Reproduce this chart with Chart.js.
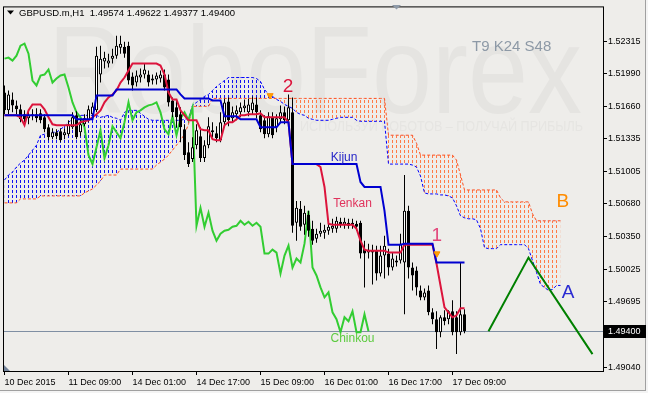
<!DOCTYPE html>
<html><head><meta charset="utf-8">
<script src="https://cdn.jsdelivr.net/npm/chart.js@4.4.0/dist/chart.umd.min.js"></script>
<style>html,body{margin:0;padding:0;background:#EEEDEA;overflow:hidden}canvas{display:block}</style>
</head><body>
<canvas id="c" width="648" height="393" style="width:648px;height:393px"></canvas>
<script>
// ---- axis ticks ----
const xTickPos = [0,16,32,48,64,80,96,112];
const xTickLabels = ['10 Dec 2015','11 Dec 09:00','14 Dec 01:00','14 Dec 17:00','15 Dec 09:00','16 Dec 01:00','16 Dec 17:00','17 Dec 09:00'];
const yTickValues = [1.52315,1.51990,1.51660,1.51335,1.51005,1.50680,1.50350,1.50025,1.49695,1.49040];
const currentPrice = 1.49400;

// ---- candles (H1 bars) ----
const openP = [
1.5180,1.5162,1.5173,1.5167,1.5163,1.5158,1.5154,1.5156,1.5158,1.5159,
1.5155,1.5145,1.5135,1.5140,1.5141,1.5137,1.5138,1.5145,1.5157,1.5140,
1.5148,1.5152,1.5158,1.5162,1.5198,1.5211,1.5209,1.5214,1.5217,1.5225,
1.5226,1.5227,1.5196,1.5190,1.5195,1.5198,1.5198,1.5192,1.5193,1.5194,
1.5198,1.5193,1.5172,1.5165,1.5158,1.5143,1.5120,1.5113,1.5127,1.5136,
1.5114,1.5127,1.5142,1.5139,1.5132,1.5150,1.5171,1.5154,1.5158,1.5160,
1.5164,1.5160,1.5162,1.5168,1.5157,1.5152,1.5138,1.5155,1.5145,1.5153,
1.5160,1.5152,1.5160,1.5049,1.5063,1.5047,1.5057,1.5043,1.5033,1.5038,
1.5039,1.5041,1.5043,1.5043,1.5050,1.5047,1.5049,1.5047,1.5048,1.5049,
1.5023,1.5019,1.5021,1.5021,1.4998,1.5016,1.5018,1.5004,1.5011,1.5011,
1.5009,1.5061,1.5004,1.5001,1.4981,1.4974,1.4981,1.4959,1.4952,1.4939,
1.4954,1.4952,1.4960,1.4954,1.4939,1.4957];
const highP = [
1.5187,1.5182,1.5180,1.5172,1.5168,1.5162,1.5162,1.5163,1.5164,1.5163,
1.5158,1.5148,1.5144,1.5143,1.5144,1.5144,1.5152,1.5160,1.5161,1.5153,
1.5158,1.5167,1.5170,1.5226,1.5227,1.5221,1.5219,1.5224,1.5237,1.5237,
1.5231,1.5231,1.5200,1.5202,1.5204,1.5209,1.5202,1.5198,1.5200,1.5202,
1.5203,1.5198,1.5175,1.5172,1.5165,1.5148,1.5130,1.5135,1.5148,1.5145,
1.5132,1.5155,1.5150,1.5146,1.5160,1.5174,1.5175,1.5166,1.5167,1.5170,
1.5173,1.5174,1.5176,1.5175,1.5162,1.5157,1.5160,1.5160,1.5158,1.5167,
1.5166,1.5178,1.5175,1.5071,1.5071,1.5066,1.5061,1.5051,1.5043,1.5049,
1.5047,1.5051,1.5053,1.5055,1.5054,1.5054,1.5053,1.5053,1.5051,1.5051,
1.5031,1.5028,1.5027,1.5026,1.5026,1.5036,1.5023,1.5019,1.5016,1.5038,
1.5097,1.5066,1.5009,1.5005,1.4986,1.4983,1.4986,1.4963,1.4960,1.4956,
1.4961,1.4961,1.4971,1.4960,1.5009,1.4962];
const lowP = [
1.5158,1.5158,1.5160,1.5158,1.5150,1.5150,1.5148,1.5152,1.5150,1.5149,
1.5140,1.5132,1.5133,1.5133,1.5130,1.5133,1.5136,1.5143,1.5133,1.5136,
1.5146,1.5150,1.5155,1.5160,1.5190,1.5204,1.5205,1.5209,1.5214,1.5219,
1.5215,1.5188,1.5182,1.5186,1.5190,1.5194,1.5186,1.5188,1.5188,1.5190,
1.5182,1.5166,1.5155,1.5145,1.5130,1.5112,1.5105,1.5110,1.5123,1.5110,
1.5110,1.5124,1.5135,1.5130,1.5130,1.5146,1.5146,1.5150,1.5152,1.5155,
1.5160,1.5156,1.5158,1.5154,1.5140,1.5134,1.5135,1.5134,1.5140,1.5150,
1.5148,1.5148,1.5039,1.5031,1.5041,1.5037,1.5035,1.5027,1.5029,1.5035,
1.5033,1.5037,1.5039,1.5039,1.5044,1.5043,1.5043,1.5043,1.5041,1.5013,
1.4984,1.5013,1.4987,1.4991,1.4995,1.4993,1.4996,1.5001,1.5005,1.5008,
1.4957,1.4993,1.4981,1.4976,1.4971,1.4971,1.4956,1.4947,1.4922,1.4934,
1.4946,1.4947,1.4936,1.4917,1.4936,1.4938];
const closeP = [
1.5162,1.5178,1.5167,1.5163,1.5153,1.5153,1.5157,1.5158,1.5154,1.5152,
1.5143,1.5135,1.5140,1.5136,1.5132,1.5140,1.5148,1.5155,1.5135,1.5148,
1.5154,1.5163,1.5166,1.5217,1.5214,1.5215,1.5212,1.5217,1.5227,1.5229,
1.5219,1.5192,1.5187,1.5197,1.5198,1.5203,1.5190,1.5194,1.5197,1.5198,
1.5185,1.5170,1.5160,1.5155,1.5145,1.5117,1.5108,1.5125,1.5142,1.5114,
1.5127,1.5146,1.5140,1.5134,1.5150,1.5170,1.5152,1.5160,1.5162,1.5165,
1.5167,1.5168,1.5170,1.5160,1.5143,1.5138,1.5156,1.5137,1.5154,1.5160,
1.5152,1.5165,1.5046,1.5064,1.5045,1.5059,1.5041,1.5031,1.5038,1.5041,
1.5042,1.5045,1.5046,1.5051,1.5047,1.5050,1.5046,1.5049,1.5045,1.5018,
1.5018,1.5022,1.5019,1.4998,1.5016,1.5026,1.5004,1.5013,1.5009,1.5028,
1.5061,1.5004,1.4996,1.4984,1.4974,1.4979,1.4959,1.4952,1.4939,1.4954,
1.4950,1.4960,1.4939,1.4939,1.4957,1.4940];

// ---- Ichimoku lines ----
const tenkan = [
1.5157,1.5157,1.5157,1.5157,1.5155,1.5147,1.5162,1.5168,1.5168,1.5168,
1.5163,1.5155,1.5148,1.5147,1.5147,1.5147,1.5147,1.5147,1.5147,1.5150,
1.5151,1.5152,1.5155,1.5158,1.5162,1.5170,1.5175,1.5178,1.5182,1.5190,
1.5195,1.5202,1.5209,1.5209,1.5209,1.5209,1.5209,1.5209,1.5209,1.5207,
1.5198,1.5180,1.5173,1.5173,1.5162,1.5157,1.5152,1.5152,1.5152,1.5143,
1.5142,1.5142,1.5133,1.5132,1.5132,1.5147,1.5150,1.5150,1.5153,1.5157,
1.5157,1.5158,1.5158,1.5158,1.5159,1.5155,1.5155,1.5155,1.5155,1.5155,
1.5155,1.5150,1.5108,1.5108,1.5108,1.5108,1.5108,1.5108,1.5108,1.5105,
1.5085,1.5048,1.5047,1.5047,1.5047,1.5047,1.5047,1.5047,1.5043,1.5031,
1.5022,1.5021,1.5021,1.5021,1.5021,1.5021,1.5019,1.5019,1.5019,1.5019,
1.5027,1.5027,1.5027,1.5027,1.5027,1.5027,1.5027,1.5027,1.5008,1.4986,
1.4964,1.4959,1.4954,1.4956,1.4963,1.4963];
const kijun = [
1.5157,1.5157,1.5157,1.5157,1.5157,1.5157,1.5157,1.5157,1.5157,1.5157,
1.5157,1.5157,1.5157,1.5157,1.5157,1.5157,1.5157,1.5157,1.5153,1.5153,
1.5153,1.5153,1.5153,1.5177,1.5177,1.5177,1.5177,1.5177,1.5183,1.5183,
1.5183,1.5183,1.5183,1.5183,1.5183,1.5183,1.5183,1.5183,1.5183,1.5183,
1.5183,1.5183,1.5183,1.5183,1.5178,1.5174,1.5174,1.5174,1.5174,1.5174,
1.5174,1.5174,1.5172,1.5172,1.5172,1.5156,1.5156,1.5156,1.5156,1.5153,
1.5153,1.5153,1.5153,1.5153,1.5145,1.5145,1.5145,1.5145,1.5145,1.5150,
1.5150,1.5150,1.5108,1.5108,1.5108,1.5108,1.5108,1.5108,1.5108,1.5108,
1.5108,1.5108,1.5108,1.5108,1.5108,1.5108,1.5108,1.5108,1.5108,1.5090,
1.5085,1.5085,1.5085,1.5085,1.5085,1.5061,1.5027,1.5027,1.5027,1.5027,
1.5028,1.5028,1.5028,1.5028,1.5028,1.5028,1.5028,1.5028,1.5009,1.5009,
1.5009,1.5009,1.5009,1.5009,1.5009,1.5009];
const senkouA = [
1.5092,1.5097,1.5100,1.5105,1.5109,1.5112,1.5117,1.5122,1.5127,1.5137,
1.5138,1.5140,1.5140,1.5140,1.5143,1.5146,1.5150,1.5153,1.5156,1.5157,
1.5157,1.5157,1.5157,1.5157,1.5155,1.5156,1.5157,1.5155,1.5154,1.5152,
1.5160,1.5162,1.5162,1.5162,1.5159,1.5156,1.5153,1.5152,1.5152,1.5152,
1.5152,1.5152,1.5152,1.5152,1.5152,1.5153,1.5154,1.5167,1.5170,1.5173,
1.5176,1.5178,1.5182,1.5186,1.5189,1.5192,1.5195,1.5195,1.5195,1.5195,
1.5195,1.5195,1.5195,1.5194,1.5191,1.5183,1.5178,1.5176,1.5173,1.5171,
1.5168,1.5166,1.5164,1.5160,1.5158,1.5157,1.5154,1.5153,1.5152,1.5152,
1.5152,1.5152,1.5153,1.5154,1.5155,1.5155,1.5155,1.5155,1.5152,1.5151,
1.5151,1.5151,1.5151,1.5151,1.5151,1.5151,1.5108,1.5108,1.5108,1.5108,
1.5108,1.5108,1.5107,1.5105,1.5096,1.5079,1.5078,1.5078,1.5078,1.5077,
1.5077,1.5076,1.5074,1.5066,1.5056,1.5054,1.5053,1.5053,1.5052,1.5043,
1.5024,1.5023,1.5023,1.5023,1.5027,1.5027,1.5027,1.5027,1.5027,1.5027,
1.5027,1.5023,1.5011,1.4999,1.4987,1.4984,1.4981,1.4982,1.4986,1.4986];
const senkouB = [
1.5069,1.5069,1.5069,1.5069,1.5073,1.5073,1.5073,1.5073,1.5073,1.5076,
1.5076,1.5076,1.5076,1.5076,1.5076,1.5076,1.5076,1.5076,1.5076,1.5076,
1.5079,1.5081,1.5083,1.5087,1.5091,1.5097,1.5097,1.5097,1.5097,1.5103,
1.5103,1.5103,1.5103,1.5103,1.5103,1.5103,1.5103,1.5103,1.5107,1.5110,
1.5113,1.5117,1.5122,1.5127,1.5132,1.5138,1.5148,1.5166,1.5166,1.5166,
1.5166,1.5166,1.5174,1.5174,1.5174,1.5174,1.5174,1.5174,1.5174,1.5174,
1.5174,1.5174,1.5174,1.5174,1.5174,1.5174,1.5174,1.5174,1.5174,1.5174,
1.5174,1.5174,1.5174,1.5174,1.5174,1.5174,1.5174,1.5174,1.5174,1.5174,
1.5174,1.5174,1.5174,1.5174,1.5174,1.5174,1.5174,1.5174,1.5174,1.5174,
1.5174,1.5174,1.5174,1.5174,1.5174,1.5174,1.5137,1.5137,1.5137,1.5137,
1.5137,1.5137,1.5137,1.5129,1.5117,1.5117,1.5117,1.5117,1.5117,1.5117,
1.5117,1.5117,1.5117,1.5112,1.5097,1.5082,1.5082,1.5082,1.5082,1.5082,
1.5082,1.5082,1.5082,1.5082,1.5074,1.5070,1.5070,1.5070,1.5070,1.5070,
1.5070,1.5070,1.5058,1.5051,1.5051,1.5051,1.5051,1.5051,1.5051,1.5051];
const chinkouShift = 24;

// ---- hand-drawn pattern lines & markers ----
const zigX = [121,131,147];
const zigY = [1.4940,1.5014,1.4917];
const markX = [66.4,108.1];
const markY = [1.5177,1.5018];

// ---- text annotations ----
const noteText  = ['2','1','B','A','Kijun','Tenkan','Chinkou'];
const noteX     = [70.9,108.1,139.6,140.9,84.9,87.0,87.0];
const noteY     = [1.5186,1.5036,1.5070,1.4979,1.5114,1.5068,1.4932];
const noteColor = ['#DC143C','#E2457A','#FF8C00','#2A2AD2','#2626C8','#E0335C','#5DCB40'];
const noteSize  = [19,19,19,19,12,12,12];

const FONT = '"Liberation Sans", Arial, sans-serif';
const canvas = document.getElementById('c');
const ctx0 = canvas.getContext('2d');
function hatch(color){
  const t = document.createElement('canvas'); t.width = 4; t.height = 5;
  const g = t.getContext('2d'); g.fillStyle = color; g.fillRect(0,0,1,3);
  return ctx0.createPattern(t,'repeat');
}
const blueHatch = hatch('#1010F0');
const orangeHatch = hatch('#FF7A45');

const idx = openP.map((_, i) => i);
const wickData = idx.map(i => ({x:i, y:[lowP[i], highP[i]]}));
const bodyData = idx.map(i => ({x:i, y:[openP[i], closeP[i]]}));
const bodyFill = idx.map(i => closeP[i] > openP[i] ? '#FFFFFF' : '#000000');
const pts = arr => arr.map((v, i) => ({x:i, y:v}));
const chinkouData = closeP.slice(chinkouShift).map((v, k) => ({x:k, y:v}));

const deco = {
  id:'deco',
  beforeDraw(chart){
    const c = chart.ctx; c.save();
    c.fillStyle = '#EEEDEA'; c.fillRect(0,0,648,393);
    c.fillStyle = '#E5E4E1';
    c.font = '125px ' + FONT; c.textBaseline = 'alphabetic'; c.textAlign = 'left';
    c.fillText('RoboForex', 48, 113, 534);
    c.fillStyle = '#E6E5E2';
    c.font = '14px ' + FONT;
    c.fillText('ИСПОЛЬЗУЙ РОБОТОВ – ПОЛУЧАЙ ПРИБЫЛЬ', 300, 131, 283);
    c.fillStyle = '#8D99A6'; c.font = '15px ' + FONT;
    c.fillText('T9 K24 S48', 472, 51);
    c.restore();
  },
  beforeDatasetsDraw(chart){
    const c = chart.ctx, a = chart.chartArea;
    const y = Math.round(chart.scales.y.getPixelForValue(currentPrice)) + 0.5;
    c.save(); c.strokeStyle = '#7F8FA3'; c.lineWidth = 1;
    c.beginPath(); c.moveTo(a.left, y); c.lineTo(a.right, y); c.stroke(); c.restore();
  },
  afterDatasetsDraw(chart){
    const c = chart.ctx, xs = chart.scales.x, ys = chart.scales.y;
    c.save(); c.textAlign = 'center'; c.textBaseline = 'middle';
    noteText.forEach((t, i) => {
      c.fillStyle = noteColor[i]; c.font = noteSize[i] + 'px ' + FONT;
      c.fillText(t, xs.getPixelForValue(noteX[i]), ys.getPixelForValue(noteY[i]));
    });
    c.restore();
  },
  afterDraw(chart){
    const c = chart.ctx, a = chart.chartArea, ys = chart.scales.y;
    c.save();
    c.strokeStyle = '#000'; c.lineWidth = 1;
    c.strokeRect(a.left + 0.5, a.top + 0.5, a.right - a.left, a.bottom - a.top);
    c.strokeStyle = '#A0A0A0';
    c.beginPath(); c.moveTo(645.5, 0); c.lineTo(645.5, 391); c.moveTo(0, 390.5); c.lineTo(646, 390.5); c.stroke();
    c.fillStyle = '#F4F4F4'; c.fillRect(646, 0, 2, 393); c.fillRect(0, 391, 648, 2);
    const py = Math.round(ys.getPixelForValue(currentPrice));
    c.fillStyle = '#000'; c.fillRect(604, py - 6, 42, 13);
    c.fillStyle = '#FFF'; c.font = '9px ' + FONT; c.textBaseline = 'middle'; c.textAlign = 'left';
    c.fillText(currentPrice.toFixed(5), 608, py + 0.5);
    c.fillStyle = '#000'; c.font = '9.5px ' + FONT; c.textBaseline = 'alphabetic';
    c.fillText('GBPUSD.m,H1  1.49574 1.49622 1.49377 1.49400', 19, 16);
    c.beginPath(); c.moveTo(7, 10.5); c.lineTo(14, 10.5); c.lineTo(10.5, 14.5); c.closePath(); c.fill();
    c.fillStyle = '#8E9AA8';
    c.beginPath(); c.moveTo(392, 5); c.lineTo(401, 5); c.lineTo(396.5, 9.5); c.closePath(); c.fill();
    c.fillStyle = '#73839A';
    c.beginPath(); c.moveTo(4, 365); c.lineTo(4, 371); c.lineTo(10, 371); c.closePath(); c.fill();
    c.restore();
  }
};

new Chart(canvas, {
  type: 'line',
  data: {
    datasets: [
      {type:'line', label:'Senkou A', data: pts(senkouA), borderColor:'#0000FF', borderWidth:1, borderDash:[3,2],
       pointRadius:0, tension:0, order:21, fill:{target:1, above: blueHatch, below: orangeHatch}},
      {type:'line', label:'Senkou B', data: pts(senkouB), borderColor:'#FF5020', borderWidth:1, borderDash:[3,2],
       pointRadius:0, tension:0, order:20, fill:false},
      {type:'line', label:'Chinkou', data: chinkouData, borderColor:'#32CD32', borderWidth:2,
       pointRadius:0, tension:0, order:15, fill:false},
      {type:'bar', label:'wicks', data: wickData, backgroundColor:'#000', borderWidth:0,
       barThickness:1, grouped:false, inflateAmount:0, order:12},
      {type:'bar', label:'bodies', data: bodyData, backgroundColor: bodyFill, borderColor:'#000', borderWidth:1,
       borderSkipped:false, barThickness:3, grouped:false, inflateAmount:0, minBarLength:1, order:11},
      {type:'line', label:'Tenkan', data: pts(tenkan), borderColor:'#DC143C', borderWidth:2,
       pointRadius:0, tension:0, order:6, fill:false},
      {type:'line', label:'Kijun', data: pts(kijun), borderColor:'#0000D0', borderWidth:2,
       pointRadius:0, tension:0, order:5, fill:false},
      {type:'line', label:'pattern', data: zigX.map((x,i)=>({x, y:zigY[i]})), borderColor:'#008000', borderWidth:2,
       pointRadius:0, tension:0, order:4, fill:false},
      {type:'line', label:'marks', data: markX.map((x,i)=>({x, y:markY[i]})), showLine:false,
       pointStyle:'triangle', rotation:180, pointRadius:3.5, pointBackgroundColor:'#FFA500', pointBorderColor:'#FF8C00',
       order:3, fill:false}
    ]
  },
  options: {
    responsive:false, animation:false, devicePixelRatio:1,
    layout:{padding:{left:3, top:4, right:0, bottom:0}, autoPadding:false},
    plugins:{legend:{display:false}, tooltip:{enabled:false}},
    scales:{
      x:{type:'linear', min:-0.375, max:149.625, offset:false,
         afterBuildTicks: s => { s.ticks = xTickPos.map(v => ({value:v})); },
         afterFit: s => { s.height = 22; },
         grid:{drawOnChartArea:false, drawTicks:true, tickLength:4, color:'#000', offset:false},
         border:{display:false},
         ticks:{align:'start', padding:2, autoSkip:false, maxRotation:0, minRotation:0, color:'#000',
                font:{family:FONT, size:9}, callback:(v,i) => xTickLabels[i]}},
      y:{type:'linear', position:'right', min:1.49000, max:1.52665, beginAtZero:false,
         afterBuildTicks: s => { s.ticks = yTickValues.map(v => ({value:v})); },
         afterFit: s => { s.width = 45; },
         grid:{drawOnChartArea:false, drawTicks:true, tickLength:4, color:'#000'},
         border:{display:false},
         ticks:{padding:1, crossAlign:'near', color:'#000', font:{family:FONT, size:9},
                callback: v => Number(v).toFixed(5)}}
    }
  },
  plugins:[deco]
});
</script>
</body></html>
